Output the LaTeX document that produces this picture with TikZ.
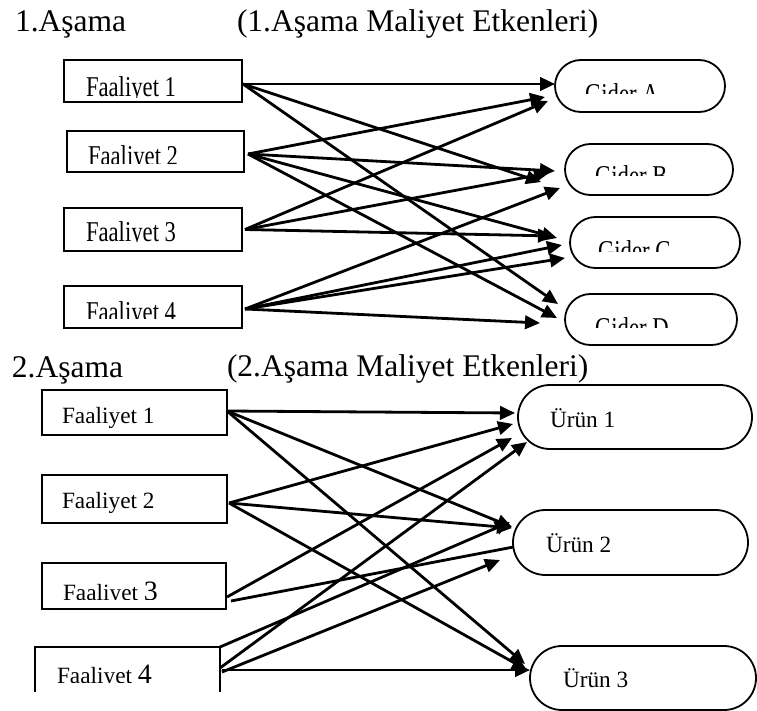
\documentclass[tikz,border=0pt]{standalone}
\usepackage{fontspec}
\setmainfont{Liberation Serif}
\usetikzlibrary{arrows.meta,shapes.misc}
\newcommand\fHead{\fontsize{31.5}{34}\selectfont}
\newcommand\fTop{\fontsize{28.7}{30}\selectfont}
\newcommand\fBot{\fontsize{23.3}{25}\selectfont}
\newcommand\fDig{\fontsize{28}{29}\selectfont}
\newcommand\narrowtxt[1]{\scalebox{0.79}[1]{#1}}

\tikzset{
  actbox/.style={draw, line width=1.6pt, inner sep=0pt, outer sep=0pt},
  pill/.style={rounded rectangle, draw, fill=white, line width=1.8pt, inner sep=0pt, outer sep=0pt},
  spot/.style={rounded rectangle, inner sep=0pt, outer sep=0pt},
  lbl/.style={inner sep=0pt, outer sep=0pt, anchor=base west},
  flow/.style={line width=2.8pt, -{Triangle[length=15pt,width=13.5pt]}},
}

\begin{document}
\begin{tikzpicture}[x=1pt,y=-1pt]
\fill[white] (0,0) rectangle (757,711);
\useasboundingbox (0,0) rectangle (757,711);

% headings
\node[lbl] (h1)  at (15,32)  {\fHead 1.Aşama};
\node[lbl] (h1b) at (237,32) {\fHead (1.Aşama Maliyet Etkenleri)};
\node[lbl] (h2)  at (12,377) {\fHead 2.Aşama};
\node[lbl] (h2b) at (227,376) {\fHead (2.Aşama Maliyet Etkenleri)};

% ---------- stage 1: activities ----------
\node[actbox, minimum width=178pt, minimum height=42pt] (f1) at (153,81) {};
\node[actbox, minimum width=177pt, minimum height=41pt] (f2) at (155.5,151.5) {};
\node[actbox, minimum width=178pt, minimum height=43pt] (f3) at (153,229.5) {};
\node[actbox, minimum width=178pt, minimum height=42pt] (f4) at (153,307) {};

\begin{scope}\clip (65,61) rectangle (241,97.5);
  \node[lbl] (tf1) at (86,97) {\fTop\narrowtxt{Faaliyet 1}};\end{scope}
\begin{scope}\clip (68,132) rectangle (243,163.5);
  \node[lbl] (tf2) at (88,166) {\fTop\narrowtxt{Faaliyet 2}};\end{scope}
\begin{scope}\clip (65,209) rectangle (241,241.5);
  \node[lbl] (tf3) at (86,242) {\fTop\narrowtxt{Faaliyet 3}};\end{scope}
\begin{scope}\clip (65,287) rectangle (241,318.5);
  \node[lbl] (tf4) at (86,321) {\fTop\narrowtxt{Faaliyet 4}};\end{scope}

% ---------- stage 2: activities ----------
\node[actbox, minimum width=185pt, minimum height=45pt] (b1) at (134.5,412.5) {};
\node[actbox, minimum width=185pt, minimum height=48pt] (b2) at (134.5,499) {};
\node[actbox, minimum width=184pt, minimum height=46pt] (b3) at (134,586) {};
\node[inner sep=0pt, outer sep=0pt, minimum width=185pt, minimum height=45pt] (b4) at (127.5,669.5) {};
\draw[line width=1.6pt] (b4.south west) -- (b4.north west) -- (b4.north east) -- (b4.south east);

\node[lbl] (tb1) at (62,423) {\fBot Faaliyet 1};
\node[lbl] (tb2) at (62,508) {\fBot Faaliyet 2};
\begin{scope}\clip (43,564) rectangle (225,599);
  \node[lbl] (tb3) at (63,600) {\fBot Faaliyet \fDig 3};\end{scope}
\begin{scope}\clip (36,648) rectangle (219,682);
  \node[lbl] (tb4) at (57,683) {\fBot Faaliyet \fDig 4};\end{scope}

% ---------- target outlines (placed first, drawn over the arrows below) ----------
\node[spot, minimum width=170pt, minimum height=52pt] (gA) at (640,86) {};
\node[spot, minimum width=168pt, minimum height=51pt] (gB) at (649,169.5) {};
\node[spot, minimum width=170pt, minimum height=51pt] (gC) at (655,242.5) {};
\node[spot, minimum width=172pt, minimum height=51pt] (gD) at (651,319.5) {};
\node[spot, minimum width=234pt, minimum height=64pt] (u1) at (635,417) {};
\node[spot, minimum width=235pt, minimum height=65pt] (u2) at (630.5,542.5) {};
\node[spot, minimum width=226pt, minimum height=64pt] (u3) at (643,678) {};

% ---------- stage 1 cost drivers ----------
\draw[flow] ([shift={(1,3)}]f1.east) -- ([shift={(0,-2)}]gA.west);
\draw[flow] ([shift={(1,3)}]f1.east) -- ([shift={(-24,12.5)}]gB.west);
\draw[flow] ([shift={(1,3)}]f1.east) -- ([shift={(-7,-15.5)}]gD.west);

\draw[flow] ([shift={(4,2.5)}]f2.east) -- ([shift={(-10,11)}]gA.west);
\draw[flow] ([shift={(4,2.5)}]f2.east) -- ([shift={(-10,1.5)}]gB.west);
\draw[flow] ([shift={(4,2.5)}]f2.east) -- ([shift={(-13,-4.5)}]gC.west);
\draw[flow] ([shift={(4,2.5)}]f2.east) -- ([shift={(-8,-1.5)}]gD.west);

\draw[flow] ([shift={(3,0)}]f3.east) -- ([shift={(-7,15)}]gA.west);
\draw[flow] ([shift={(3,0)}]f3.east) -- ([shift={(-16,3.5)}]gB.west);
\draw[flow] ([shift={(3,0)}]f3.east) -- ([shift={(-17,-6.5)}]gC.west);

\draw[flow] ([shift={(3,2)}]f4.east) -- ([shift={(-5,18.5)}]gB.west);
\draw[flow] ([shift={(3,2)}]f4.east) -- ([shift={(-8,2.5)}]gC.west);
\draw[flow] ([shift={(3,2)}]f4.east) -- ([shift={(-5,15.5)}]gC.west);
\draw[flow] ([shift={(3,2)}]f4.east) -- ([shift={(-25,3.5)}]gD.west);

% ---------- stage 2 cost drivers ----------
\draw[flow] ([shift={(0,-1.5)}]b1.east) -- ([shift={(-3,-4)}]u1.west);
\draw[flow] ([shift={(0,-1.5)}]b1.east) -- ([shift={(-1,-15.5)}]u2.west);
\draw[flow] ([shift={(0,-1.5)}]b1.east) -- ([shift={(-5,-14)}]u3.west);

\draw[flow] ([shift={(2,4)}]b2.east) -- ([shift={(-5,7)}]u1.west);
\draw[flow] ([shift={(2,4)}]b2.east) -- ([shift={(-1,-14.5)}]u2.west);
\draw[flow] ([shift={(2,4)}]b2.east) -- ([shift={(-3,-8)}]u3.west);

\draw[flow] ([shift={(1,11)}]b3.east) -- ([shift={(-6,21)}]u1.west);
\draw[flow] ([shift={(5,15)}]b3.east) -- ([shift={(24,0)}]u2.west);

\draw[flow] (b4.north east) -- ([shift={(-3,-20.5)}]u2.west);
\draw[flow] ([shift={(0,-1.5)}]b4.east) -- ([shift={(9,25)}]u1.west);
\draw[flow] ([shift={(2,2.5)}]b4.east) -- ([shift={(-13,17.5)}]u2.west);
\draw[flow] ([shift={(2,0.5)}]b4.east) -- ([shift={(0,-8)}]u3.west);

% ---------- targets, white-filled over the arrow ends ----------
\node[pill, minimum width=170pt, minimum height=52pt] (pA) at (gA) {};
\node[pill, minimum width=168pt, minimum height=51pt] (pB) at (gB) {};
\node[pill, minimum width=170pt, minimum height=51pt] (pC) at (gC) {};
\node[pill, minimum width=172pt, minimum height=51pt] (pD) at (gD) {};
\node[pill, minimum width=234pt, minimum height=64pt] (p1) at (u1) {};
\node[pill, minimum width=235pt, minimum height=65pt] (p2) at (u2) {};
\node[pill, minimum width=226pt, minimum height=64pt] (p3) at (u3) {};

\begin{scope}\clip (556,61) rectangle (724,94);
  \node[lbl] (tgA) at (585,104) {\fTop\narrowtxt{Gider A}};\end{scope}
\begin{scope}\clip (566,145) rectangle (732,176);
  \node[lbl] (tgB) at (595,186) {\fTop\narrowtxt{Gider B}};\end{scope}
\begin{scope}\clip (571,218) rectangle (739,252);
  \node[lbl] (tgC) at (598,261) {\fTop\narrowtxt{Gider C}};\end{scope}
\begin{scope}\clip (566,295) rectangle (736,327);
  \node[lbl] (tgD) at (595,337) {\fTop\narrowtxt{Gider D}};\end{scope}

\node[lbl] (tu1) at (550,427) {\fBot Ürün 1};
\node[lbl] (tu2) at (546,552) {\fBot Ürün 2};
\node[lbl] (tu3) at (563,687) {\fBot Ürün 3};
\end{tikzpicture}
\end{document}
